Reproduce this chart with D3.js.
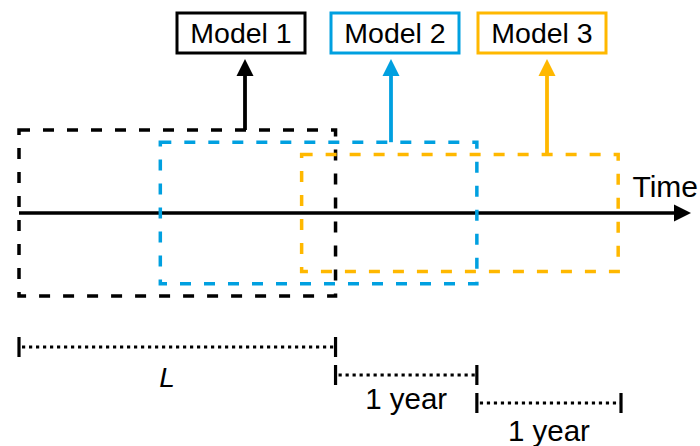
<!DOCTYPE html>
<html lang="en">
<head>
<meta charset="UTF-8">
<title>Rolling window models</title>
<script src="https://cdnjs.cloudflare.com/ajax/libs/d3/7.8.5/d3.min.js"></script>
<style>
  body { margin: 0; background: #fff; }
  svg { display: block; }
  text { font-family: "Liberation Sans", Arial, sans-serif; fill: #000; }
</style>
</head>
<body>
<script>
  // data: each model is trained on a window of length L, shifted by 1 year
  const models = ["Model 1", "Model 2", "Model 3"];
  const modelStart = [0, 1, 2];        // years
  const windowLength = 2.24;           // L, in years
  const modelColors = ["#000000", "#00a0e0", "#ffb800"];
  const spans = [
    { from: 0, to: 2.24, label: "L" },
    { from: 2.24, to: 3.24, label: "1 year" },
    { from: 3.24, to: 4.26, label: "1 year" }
  ];

  const W = 700, H = 446;
  const svg = d3.select("body").append("svg").attr("width", W).attr("height", H);

  // time scale, 1 year ~ 142px
  const x = d3.scaleLinear().domain([0, 4.26]).range([19, 621]);
  const axisY = 213;

  // filled triangle head, tip at (tx,ty), pointing dir ("up" / "right")
  function head(tx, ty, dir, color) {
    const L = 17, hw = 8.5;
    const d = dir === "up"
      ? `M${tx},${ty} L${tx - hw},${ty + L} L${tx + hw},${ty + L} Z`
      : `M${tx},${ty} L${tx - L},${ty - hw} L${tx - L},${ty + hw} Z`;
    svg.append("path").attr("d", d).attr("fill", color);
  }

  // time axis
  svg.append("line")
    .attr("x1", x(0)).attr("x2", 676)
    .attr("y1", axisY).attr("y2", axisY)
    .attr("stroke", "#000").attr("stroke-width", 3.5);
  head(691, axisY, "right", "#000");
  svg.append("text").attr("x", 698).attr("y", 197)
    .attr("text-anchor", "end").attr("font-size", 30).text("Time");

  // model label boxes on top
  const labelCx = [241, 395, 542];
  const arrowX = [245, 391, 547];

  models.forEach((m, i) => {
    const half = 83 - i * 12.2;
    const x0 = x(modelStart[i]), x1 = x(modelStart[i] + windowLength);

    // dashed training window
    svg.append("rect")
      .attr("x", x0).attr("y", axisY - half)
      .attr("width", x1 - x0).attr("height", half * 2)
      .attr("fill", "none")
      .attr("stroke", modelColors[i]).attr("stroke-width", 3.5)
      .attr("stroke-dasharray", "11,13");

    // arrow up to label
    svg.append("line")
      .attr("x1", arrowX[i]).attr("x2", arrowX[i])
      .attr("y1", axisY - half).attr("y2", 70)
      .attr("stroke", modelColors[i]).attr("stroke-width", 3.8);
    head(arrowX[i], 59, "up", modelColors[i]);

    // label box
    svg.append("rect")
      .attr("x", labelCx[i] - 64).attr("y", 13)
      .attr("width", 128).attr("height", 40)
      .attr("fill", "#fff")
      .attr("stroke", modelColors[i]).attr("stroke-width", 3);
    svg.append("text")
      .attr("x", labelCx[i]).attr("y", 43)
      .attr("text-anchor", "middle").attr("font-size", 28.5)
      .text(m);
  });

  // dotted spans below
  const spanY = [347, 375, 403];
  const labelY = [387, 409, 441];
  spans.forEach((s, i) => {
    const g = svg.append("g");
    g.append("line")
      .attr("x1", x(s.from) + 3).attr("x2", x(s.to))
      .attr("y1", spanY[i]).attr("y2", spanY[i])
      .attr("stroke", "#000").attr("stroke-width", 3.2)
      .attr("stroke-dasharray", "3.2,3.8");
    [s.from, s.to].forEach(t => {
      g.append("line")
        .attr("x1", x(t)).attr("x2", x(t))
        .attr("y1", spanY[i] - 10).attr("y2", spanY[i] + 10)
        .attr("stroke", "#000").attr("stroke-width", 3.2);
    });
    const lx = i === 0 ? x(s.from) + 148 : (x(s.from) + x(s.to)) / 2;
    g.append("text")
      .attr("x", lx).attr("y", labelY[i])
      .attr("text-anchor", "middle").attr("font-size", i === 0 ? 28 : 29.5)
      .attr("font-style", i === 0 ? "italic" : "normal")
      .text(s.label);
  });
</script>
</body>
</html>
